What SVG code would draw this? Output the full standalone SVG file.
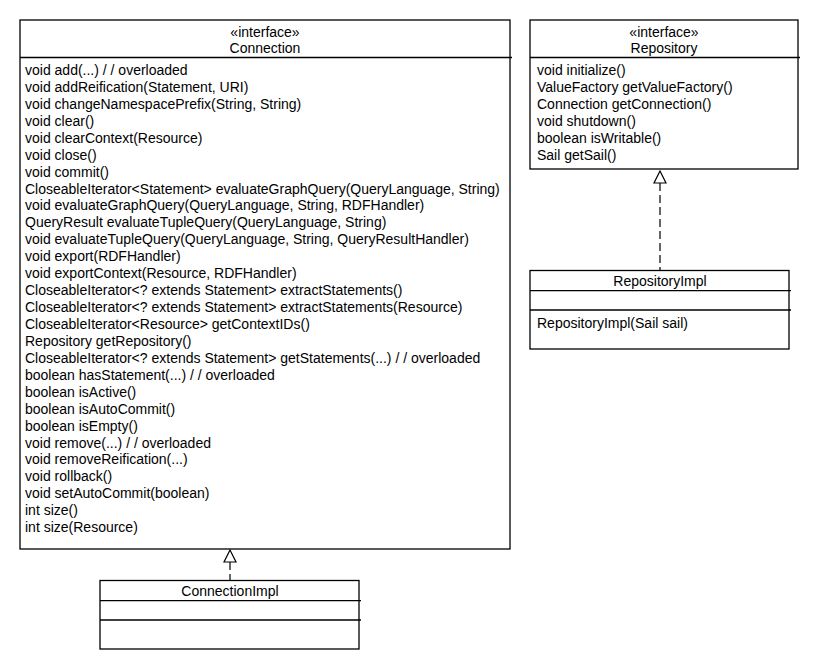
<svg xmlns="http://www.w3.org/2000/svg" width="820" height="670" viewBox="0 0 820 670">
<style>
.box{fill:#fff;stroke:#000;stroke-width:1.3}
.sep{stroke:#000;stroke-width:1.3}
text{font-family:"Liberation Sans",Arial,sans-serif;font-size:14px;fill:#000}
.c{text-anchor:middle}
.dash{stroke:#000;stroke-width:1.2;stroke-dasharray:8,4;fill:none}
.tri{fill:#fff;stroke:#000;stroke-width:1.2}
</style>
<rect width="820" height="670" fill="#fff"/>
<g id="connectors">
<line class="dash" x1="230" y1="562" x2="230" y2="580"/>
<polygon class="tri" points="230,550 224,562 236,562"/>
<line class="dash" x1="660" y1="183" x2="660" y2="270"/>
<polygon class="tri" points="660,171 654,183 666,183"/>
</g>
<g id="Connection">
<rect class="box" x="20" y="20" width="490" height="529"/>
<line class="sep" x1="20" y1="57.5" x2="512" y2="57.5"/>
<text class="c" x="265" y="37">«interface»</text>
<text class="c" x="265" y="53">Connection</text>
<text x="25" y="75">void add(...) / / overloaded</text>
<text x="25" y="91.9">void addReification(Statement, URI)</text>
<text x="25" y="108.9">void changeNamespacePrefix(String, String)</text>
<text x="25" y="125.8">void clear()</text>
<text x="25" y="142.7">void clearContext(Resource)</text>
<text x="25" y="159.7">void close()</text>
<text x="25" y="176.6">void commit()</text>
<text x="25" y="193.5">CloseableIterator&lt;Statement&gt; evaluateGraphQuery(QueryLanguage, String)</text>
<text x="25" y="210.4">void evaluateGraphQuery(QueryLanguage, String, RDFHandler)</text>
<text x="25" y="227.4">QueryResult evaluateTupleQuery(QueryLanguage, String)</text>
<text x="25" y="244.3">void evaluateTupleQuery(QueryLanguage, String, QueryResultHandler)</text>
<text x="25" y="261.2">void export(RDFHandler)</text>
<text x="25" y="278.2">void exportContext(Resource, RDFHandler)</text>
<text x="25" y="295.1">CloseableIterator&lt;? extends Statement&gt; extractStatements()</text>
<text x="25" y="312">CloseableIterator&lt;? extends Statement&gt; extractStatements(Resource)</text>
<text x="25" y="329">CloseableIterator&lt;Resource&gt; getContextIDs()</text>
<text x="25" y="345.9">Repository getRepository()</text>
<text x="25" y="362.8">CloseableIterator&lt;? extends Statement&gt; getStatements(...) / / overloaded</text>
<text x="25" y="379.7">boolean hasStatement(...) / / overloaded</text>
<text x="25" y="396.7">boolean isActive()</text>
<text x="25" y="413.6">boolean isAutoCommit()</text>
<text x="25" y="430.5">boolean isEmpty()</text>
<text x="25" y="447.5">void remove(...) / / overloaded</text>
<text x="25" y="464.4">void removeReification(...)</text>
<text x="25" y="481.3">void rollback()</text>
<text x="25" y="498.3">void setAutoCommit(boolean)</text>
<text x="25" y="515.2">int size()</text>
<text x="25" y="532.1">int size(Resource)</text>
</g>
<g id="Repository">
<rect class="box" x="530" y="20" width="268" height="149"/>
<line class="sep" x1="530" y1="57.5" x2="800" y2="57.5"/>
<text class="c" x="664" y="37">«interface»</text>
<text class="c" x="664" y="53">Repository</text>
<text x="537" y="75">void initialize()</text>
<text x="537" y="91.9">ValueFactory getValueFactory()</text>
<text x="537" y="108.9">Connection getConnection()</text>
<text x="537" y="125.8">void shutdown()</text>
<text x="537" y="142.7">boolean isWritable()</text>
<text x="537" y="159.7">Sail getSail()</text>
</g>
<g id="RepositoryImpl">
<rect class="box" x="530" y="270.5" width="259" height="78.5"/>
<line class="sep" x1="530" y1="290.7" x2="791" y2="290.7"/>
<line class="sep" x1="530" y1="310" x2="791" y2="310"/>
<text class="c" x="660" y="286">RepositoryImpl</text>
<text x="537" y="328">RepositoryImpl(Sail sail)</text>
</g>
<g id="ConnectionImpl">
<rect class="box" x="100" y="580.5" width="259" height="68.5"/>
<line class="sep" x1="100" y1="600.7" x2="361" y2="600.7"/>
<line class="sep" x1="100" y1="620" x2="361" y2="620"/>
<text class="c" x="230" y="596">ConnectionImpl</text>
</g>
</svg>
